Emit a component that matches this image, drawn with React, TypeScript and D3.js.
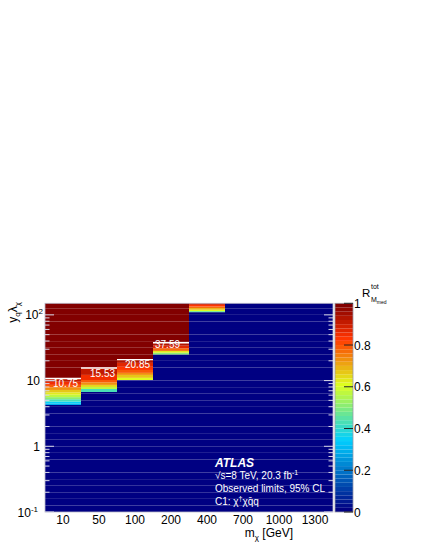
import React from "react";
import * as d3 from "d3";

// ---- data ----
const massPoints = ["10", "50", "100", "200", "400", "700", "1000", "1300"];
const observedLimits: (number | null)[] = [10.75, 15.53, 20.85, 37.59, null, null, null, null];
const limitLabels = ["10.75", "15.53", "20.85", "37.59"];

// transition bands (lower edges in y_q*lambda, R values between consecutive edges)
const bandEdges10 = [4.25, 4.5, 4.8, 5.2, 5.6, 6.1, 6.6, 7.2, 7.9, 8.6, 9.6, 10.75];
const bandR10 = [0.28, 0.34, 0.42, 0.5, 0.57, 0.62, 0.67, 0.72, 0.78, 0.84, 0.9];
const bandEdges50 = [6.7, 7.45, 8.0, 8.6, 9.4, 10.2, 12.2, 15.53];
const bandR50 = [0.42, 0.58, 0.65, 0.72, 0.78, 0.84, 0.9];
const bandEdges100 = [10.2, 11.0, 12.2, 13.1, 14.5, 16.2, 18.6, 20.85];
const bandR100 = [0.6, 0.66, 0.72, 0.78, 0.83, 0.87, 0.92];
const bandEdges200 = [25.0, 26.6, 28.3, 31, 34, 37.59];
const bandR200 = [0.5, 0.63, 0.76, 0.86, 0.92];
const bandEdges400 = [110, 114, 120, 127, 134, 142, 150];
const bandR400 = [0.45, 0.6, 0.68, 0.76, 0.82, 0.88];
const bandEdgesList = [bandEdges10, bandEdges50, bandEdges100, bandEdges200, bandEdges400, [], [], []];
const bandRList = [bandR10, bandR50, bandR100, bandR200, bandR400, [], [], []];
const belowValue = 0;
const aboveValue = 1;

const yMajorTicks = [0.1, 1, 10, 100];
const zTicks = [0, 0.2, 0.4, 0.6, 0.8, 1];
const zTickLabels = ["0", "0.2", "0.4", "0.6", "0.8", "1"];

// ---- style ----
const FONT = "'Liberation Sans', Arial, Helvetica, sans-serif";
const W = 423, H = 547;
const L = 45, R = 333, T = 303.3, B = 512;
const CB_L = 335, CB_R = 353;
const Y_MIN = 0.1, Y_MAX = 150;
const labelDx = [8, 9, 8, 2];
const labelDy = [8, 9, 8, 5];

const paletteStops = [0, 0.34, 0.61, 0.84, 1];
const paletteColors = ["rgb(0,0,130)", "rgb(0,207,255)", "rgb(222,255,31)", "rgb(255,51,0)", "rgb(130,0,0)"];
const paletteScale = d3.scaleLinear<string>().domain(paletteStops).range(paletteColors).interpolate(d3.interpolateRgb);
const NCOL = 50;
const palette = d3.range(NCOL).map((i) => paletteScale(i / (NCOL - 1)));
const colorFor = (z: number) => palette[Math.max(0, Math.min(NCOL - 1, Math.floor(z * NCOL)))];

export default function App() {
  const x = d3.scaleBand<string>().domain(massPoints).range([L, R]).padding(0);
  const y = d3.scaleLog().domain([Y_MIN, Y_MAX]).range([B, T]);
  const z = d3.scaleLinear().domain([0, 1]).range([B, T]);

  // fine binning of the histogram rows (10 per decade)
  const nGrid = Math.ceil(Math.log10(Y_MAX / Y_MIN) * 10);
  const grid = d3.range(nGrid + 1).map((i) => Math.min(Y_MAX, Y_MIN * Math.pow(10, i / 10)));

  type Cell = { col: string; lo: number; hi: number; v: number };
  const cells: Cell[] = [];
  const addConst = (col: string, lo: number, hi: number, v: number) => {
    if (hi <= lo) return;
    const edges = [lo, ...grid.filter((g) => g > lo && g < hi), hi];
    for (let i = 0; i < edges.length - 1; i++) cells.push({ col, lo: edges[i], hi: edges[i + 1], v });
  };
  massPoints.forEach((m, ci) => {
    const edges = bandEdgesList[ci];
    const vals = bandRList[ci];
    if (edges.length === 0) {
      addConst(m, Y_MIN, Y_MAX, belowValue);
      return;
    }
    addConst(m, Y_MIN, edges[0], belowValue);
    for (let i = 0; i < vals.length; i++) cells.push({ col: m, lo: edges[i], hi: edges[i + 1], v: vals[i] });
    addConst(m, edges[edges.length - 1], Y_MAX, aboveValue);
  });

  const minorTicks: number[] = [];
  for (let d = -1; d <= 2; d++) {
    for (let k = 2; k <= 9; k++) {
      const v = k * Math.pow(10, d);
      if (v > Y_MIN && v < Y_MAX) minorTicks.push(v);
    }
  }

  const bw = x.bandwidth();

  return (
    <svg width={W} height={H} style={{ position: "absolute", left: 0, top: 0 }} fontFamily={FONT}>
      <rect x={0} y={0} width={W} height={H} fill="white" />
      {/* histogram cells */}
      <g>
        {cells.map((c, i) => (
          <rect
            key={i}
            x={x(c.col)!}
            y={y(c.hi)}
            width={bw}
            height={y(c.lo) - y(c.hi)}
            fill={colorFor(c.v)}
          />
        ))}
      </g>
      {/* limit lines and labels */}
      {observedLimits.map((lim, i) =>
        lim == null ? null : (
          <g key={"lim" + i}>
            <line x1={x(massPoints[i])!} x2={x(massPoints[i])! + bw} y1={y(lim)} y2={y(lim)} stroke="white" strokeWidth={1.4} />
            <text x={x(massPoints[i])! + labelDx[i]} y={y(lim) + labelDy[i]} fill="white" fontSize={10}>
              {limitLabels[i]}
            </text>
          </g>
        )
      )}
      {/* frame */}
      <rect x={L} y={T} width={R - L} height={B - T} fill="none" stroke="#b8b8c8" strokeWidth={0.8} />
      {/* y ticks, left and mirrored right */}
      {yMajorTicks.map((t) => (
        <g key={"ym" + t}>
          <line x1={L} x2={L + 9} y1={y(t)} y2={y(t)} stroke="#d8d8e8" strokeWidth={1} />
          <line x1={R} x2={R - 9} y1={y(t)} y2={y(t)} stroke="#d8d8e8" strokeWidth={1} />
        </g>
      ))}
      {minorTicks.map((t) => (
        <g key={"yn" + t}>
          <line x1={L} x2={L + 4.5} y1={y(t)} y2={y(t)} stroke="#d8d8e8" strokeWidth={1} />
          <line x1={R} x2={R - 4.5} y1={y(t)} y2={y(t)} stroke="#d8d8e8" strokeWidth={1} />
        </g>
      ))}
      {/* y tick labels */}
      <g fontSize={12} fill="black" textAnchor="end">
        <text x={38} y={y(0.1) + 4.5}>
          10<tspan dy={-5} fontSize={8}>-1</tspan>
        </text>
        <text x={40} y={y(1) + 4.5}>1</text>
        <text x={40} y={y(10) + 4.5}>10</text>
        <text x={43} y={y(100) + 4.5}>
          10<tspan dy={-5} fontSize={8}>2</tspan>
        </text>
      </g>
      {/* x tick labels */}
      <g fontSize={12} fill="black" textAnchor="middle">
        {massPoints.map((m) => (
          <text key={"xl" + m} x={x(m)! + bw / 2} y={524}>
            {m}
          </text>
        ))}
      </g>
      {/* axis titles */}
      <text x={293} y={537} fontSize={12} textAnchor="end">
        m<tspan dy={3} fontSize={8}>χ</tspan>
        <tspan dy={-3}> [GeV]</tspan>
      </text>
      <text transform="translate(17,302) rotate(-90)" fontSize={12} textAnchor="end">
        y<tspan dy={3} fontSize={8}>q</tspan>
        <tspan dy={-3}>λ</tspan>
        <tspan dy={3} fontSize={8}>χ</tspan>
      </text>
      {/* colour bar */}
      <g>
        {palette.map((c, i) => (
          <rect key={"cb" + i} x={CB_L} y={z((i + 1) / NCOL)} width={CB_R - CB_L} height={z(i / NCOL) - z((i + 1) / NCOL)} fill={c} />
        ))}
        <rect x={CB_L} y={T} width={CB_R - CB_L} height={B - T} fill="none" stroke="#9a9aa8" strokeWidth={0.8} />
        {zTicks.map((t, i) => (
          <g key={"zt" + t}>
            <line x1={CB_R} x2={CB_R - 9} y1={z(t)} y2={z(t)} stroke="#222" strokeWidth={1} />
            <text x={354} y={z(t) + 4.5} fontSize={12}>
              {zTickLabels[i]}
            </text>
          </g>
        ))}
        <text x={362} y={297} fontSize={11.5}>R</text>
        <text x={371} y={289} fontSize={7}>tot</text>
        <text x={371} y={302} fontSize={7}>
          M<tspan dy={2} fontSize={5}>med</tspan>
        </text>
      </g>
      {/* ATLAS label */}
      <g fill="white">
        <text x={215} y={467} fontSize={12} fontWeight="bold" fontStyle="italic">ATLAS</text>
        <text x={215} y={479} fontSize={10}>
          √s=8 TeV, 20.3 fb<tspan dy={-4} fontSize={7}>-1</tspan>
        </text>
        <text x={215} y={492} fontSize={10}>Observed limits, 95% CL</text>
        <text x={215} y={505} fontSize={10}>
          C1: χ<tspan dy={-4} fontSize={7}>†</tspan>
          <tspan dy={4}>χq̄q</tspan>
        </text>
      </g>
    </svg>
  );
}
